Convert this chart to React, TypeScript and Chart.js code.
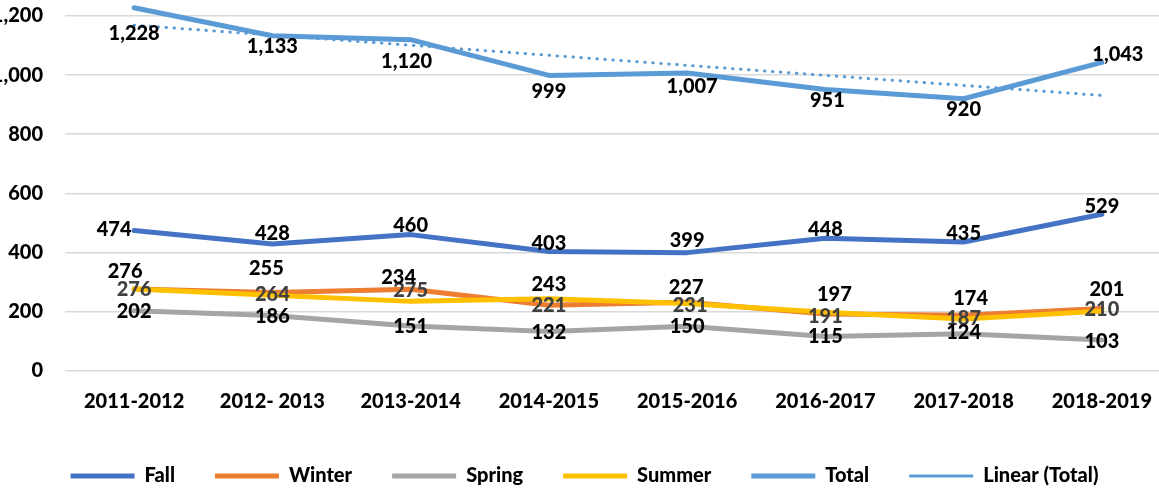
import React, { useEffect, useRef } from "react";
import { Chart, registerables } from "chart.js";

Chart.register(...registerables);

const categories = ["2011-2012", "2012- 2013", "2013-2014", "2014-2015", "2015-2016", "2016-2017", "2017-2018", "2018-2019"];
const fall = [474, 428, 460, 403, 399, 448, 435, 529];
const winter = [276, 264, 275, 221, 231, 191, 187, 210];
const spring = [202, 186, 151, 132, 150, 115, 124, 103];
const summer = [276, 255, 234, 243, 227, 197, 174, 201];
const total = [1228, 1133, 1120, 999, 1007, 951, 920, 1043];
const linearTotal = [1169, 1135, 1101, 1067, 1033, 999, 965, 931];
const yTicks = [0, 200, 400, 600, 800, 1000, 1200];

const FONT = "Lato";
const WEIGHT = 900;

// label placement (pixel offsets of the text centre from each point)
const labelStyle: Record<string, { color: string; offsets: number[][] }> = {
  Fall: { color: "#000000", offsets: [[-20, -1], [0, -11], [0, -9], [0, -8], [0, -12], [0, -9], [0, -8], [0, -8]] },
  Total: { color: "#000000", offsets: [[0, 26], [0, 11], [-4, 22], [0, 16], [5, 14], [2, 11], [0, 11], [16, -8]] },
  Summer: { color: "#000000", offsets: [[-9, -17], [-6, -27], [-12, -24], [0, -14], [-1, -16], [9, -18], [7, -21], [5, -22]] },
  Winter: { color: "#404040", offsets: [[0, 1], [0, 2], [0, 1.5], [0, 0.5], [3, 3], [0, 2], [0, 3], [0, 1.5]] },
  Spring: { color: "#000000", offsets: [[0, 1], [0, 1], [0, 1], [0, 1.5], [0, 0], [0, 0.5], [0, -1], [0, 1]] },
};

const valueLabels = {
  id: "valueLabels",
  afterDatasetsDraw(chart: any) {
    const ctx = chart.ctx;
    ctx.save();
    ctx.font = `${WEIGHT} 20px ${FONT}`;
    ctx.textAlign = "center";
    ctx.textBaseline = "middle";
    chart.data.datasets.forEach((ds: any, di: number) => {
      const cfg = labelStyle[ds.label];
      if (!cfg) return;
      const meta = chart.getDatasetMeta(di);
      meta.data.forEach((pt: any, i: number) => {
        const [dx, dy] = cfg.offsets[i] || [0, 0];
        ctx.fillStyle = cfg.color;
        ctx.fillText(Number(ds.data[i]).toLocaleString("en-US"), pt.x + dx, pt.y + dy);
      });
    });
    ctx.restore();
  },
};

function line(label: string, data: number[], color: string, order: number, extra: any = {}) {
  return {
    label,
    data,
    borderColor: color,
    backgroundColor: color,
    borderWidth: 5,
    borderCapStyle: "round",
    borderJoinStyle: "round",
    pointRadius: 0,
    pointHoverRadius: 0,
    tension: 0,
    clip: false,
    order,
    ...extra,
  };
}

export default function App() {
  const ref = useRef<HTMLCanvasElement | null>(null);
  useEffect(() => {
    if (!ref.current) return;
    const font = { family: FONT, size: 20, weight: WEIGHT as any };
    const chart = new Chart(ref.current, {
      type: "line",
      data: {
        labels: categories,
        datasets: [
          line("Fall", fall, "#4472C4", 6),
          line("Winter", winter, "#ED7D31", 5),
          line("Spring", spring, "#A5A5A5", 4),
          line("Summer", summer, "#FFC000", 3),
          line("Total", total, "#5B9BD5", 2),
          line("Linear (Total)", linearTotal, "#5B9BD5", 1, { borderWidth: 3, borderDash: [0.5, 7.5], borderCapStyle: "round" }),
        ] as any,
      },
      options: {
        responsive: false,
        animation: false,
        events: [],
        layout: { padding: { left: 38, right: 29, top: 16, bottom: 4 } },
        plugins: {
          tooltip: { enabled: false },
          legend: {
            position: "bottom",
            labels: {
              usePointStyle: true,
              pointStyle: "line",
              pointStyleWidth: 64,
              padding: 40,
              color: "#000000",
              font,
              sort: (a: any, b: any) => a.datasetIndex - b.datasetIndex,
            },
          },
        },
        scales: {
          x: {
            offset: true,
            grid: { display: false, offset: true },
            border: { display: false },
            ticks: { color: "#000000", font, padding: 11, maxRotation: 0, autoSkip: false },
            afterFit: (s: any) => { s.height = 55.5; s.paddingLeft = 0; s.paddingRight = 0; },
          },
          y: {
            min: yTicks[0],
            max: yTicks[yTicks.length - 1],
            afterBuildTicks: (s: any) => { s.ticks = yTicks.map((v) => ({ value: v })); },
            ticks: {
              color: "#000000",
              font,
              padding: 22,
              callback: (v: any) => Number(v).toLocaleString("en-US"),
            },
            grid: { color: "#D9D9D9", lineWidth: 1.5, drawTicks: false },
            border: { display: false },
            afterFit: (s: any) => { s.width = 67; s.paddingTop = 0; s.paddingBottom = 0; },
          },
        },
      },
      plugins: [valueLabels],
    });
    return () => chart.destroy();
  }, []);
  return (
    <div style={{ position: "fixed", left: -40, top: 0, width: 1240, height: 500, background: "#fff" }}>
      <canvas ref={ref} width={1240} height={500} />
    </div>
  );
}
